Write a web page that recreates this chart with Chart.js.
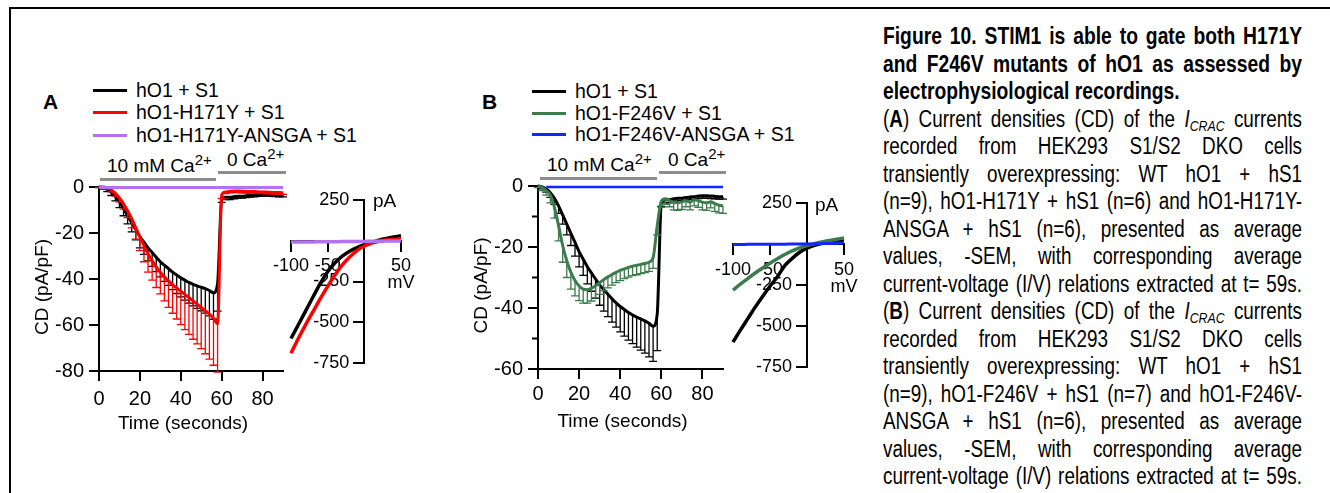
<!DOCTYPE html>
<html>
<head>
<meta charset="utf-8">
<script src="https://cdn.jsdelivr.net/npm/chart.js@4.4.0/dist/chart.umd.min.js"></script>
<style>
  html, body { margin: 0; padding: 0; background: #fff; }
  body { width: 1330px; height: 493px; position: relative; overflow: hidden; font-family: "Liberation Sans", Arial, sans-serif; color: #000; }
  .frame { position: absolute; left: 9px; top: 7px; width: 1400px; height: 600px; border-left: 2px solid #000; border-top: 2px solid #000; }
  canvas { position: absolute; }
  .leg-line { position: absolute; height: 3px; width: 34px; }
  .leg-text { position: absolute; font-size: 19.5px; line-height: 22px; white-space: nowrap; }
  .panel { position: absolute; font-size: 21px; font-weight: bold; line-height: 22px; }
  .ca-bar { position: absolute; height: 3px; background: #8c8c8c; }
  .ca-text { position: absolute; font-size: 19px; line-height: 20px; white-space: nowrap; }
  .ca-text sup { font-size: 15px; vertical-align: 7px; line-height: 0; }
  .unit { position: absolute; font-size: 19px; line-height: 20px; }
  .caption { position: absolute; left: 883px; top: 23px; width: 511px; transform: scaleX(0.82); transform-origin: 0 0; font-size: 23px; line-height: 27.5px; }
  .caption .ln { display: block; text-align: justify; text-align-last: justify; height: 27.5px; }
  .caption .ln.left { text-align: left; text-align-last: left; }
  .caption .t { font-weight: bold; font-size: 23.5px; }
  .caption sub { font-size: 15px; line-height: 0; vertical-align: -4px; font-style: italic; }
</style>
</head>
<body>
<div class="frame"></div>

<!-- Panel A legend -->
<div class="panel" style="left:43px; top:91px;">A</div>
<div class="leg-line" style="left:93px; top:89px; background:#000;"></div>
<div class="leg-text" style="left:136px; top:79px;">hO1 + S1</div>
<div class="leg-line" style="left:93px; top:111px; background:#ff0000;"></div>
<div class="leg-text" style="left:136px; top:101px;">hO1-H171Y + S1</div>
<div class="leg-line" style="left:93px; top:134px; background:#b472f2;"></div>
<div class="leg-text" style="left:136px; top:124px;">hO1-H171Y-ANSGA + S1</div>

<div class="ca-bar" style="left:100px; top:178px; width:116px;"></div>
<div class="ca-text" style="left:107px; top:156px;">10 mM Ca<sup>2+</sup></div>
<div class="ca-bar" style="left:218px; top:171px; width:68px;"></div>
<div class="ca-text" style="left:227px; top:150px;">0 Ca<sup>2+</sup></div>

<!-- Panel B legend -->
<div class="panel" style="left:482px; top:91px;">B</div>
<div class="leg-line" style="left:532px; top:90px; background:#000;"></div>
<div class="leg-text" style="left:575px; top:80px;">hO1 + S1</div>
<div class="leg-line" style="left:532px; top:112px; background:#3c7b4d;"></div>
<div class="leg-text" style="left:575px; top:102px;">hO1-F246V + S1</div>
<div class="leg-line" style="left:532px; top:133px; background:#1028ff;"></div>
<div class="leg-text" style="left:575px; top:123px;">hO1-F246V-ANSGA + S1</div>

<div class="ca-bar" style="left:540px; top:177px; width:117px;"></div>
<div class="ca-text" style="left:547px; top:155px;">10 mM Ca<sup>2+</sup></div>
<div class="ca-bar" style="left:659px; top:171px; width:67px;"></div>
<div class="ca-text" style="left:668px; top:150px;">0 Ca<sup>2+</sup></div>

<canvas id="timeA" width="310" height="310" style="left:0px; top:140px;"></canvas>
<canvas id="ivA" width="200" height="220" style="left:240px; top:170px;"></canvas>
<canvas id="timeB" width="310" height="310" style="left:440px; top:140px;"></canvas>
<canvas id="ivB" width="200" height="220" style="left:680px; top:170px;"></canvas>

<div class="unit" style="left:373px; top:191px;">pA</div>
<div class="unit" style="left:815px; top:195px;">pA</div>

<div class="caption">
  <span class="ln t">Figure 10. STIM1 is able to gate both H171Y</span>
  <span class="ln t">and F246V mutants of hO1 as assessed by</span>
  <span class="ln t left">electrophysiological recordings.</span>
  <span class="ln">(<b>A</b>) Current densities (CD) of the <i>I</i><sub>CRAC</sub> currents</span>
  <span class="ln">recorded from HEK293 S1/S2 DKO cells</span>
  <span class="ln">transiently overexpressing: WT hO1 + hS1</span>
  <span class="ln">(n=9), hO1-H171Y + hS1 (n=6) and hO1-H171Y-</span>
  <span class="ln">ANSGA + hS1 (n=6), presented as average</span>
  <span class="ln">values, -SEM, with corresponding average</span>
  <span class="ln">current-voltage (I/V) relations extracted at t= 59s.</span>
  <span class="ln">(<b>B</b>) Current densities (CD) of the <i>I</i><sub>CRAC</sub> currents</span>
  <span class="ln">recorded from HEK293 S1/S2 DKO cells</span>
  <span class="ln">transiently overexpressing: WT hO1 + hS1</span>
  <span class="ln">(n=9), hO1-F246V + hS1 (n=7) and hO1-F246V-</span>
  <span class="ln">ANSGA + hS1 (n=6), presented as average</span>
  <span class="ln">values, -SEM, with corresponding average</span>
  <span class="ln">current-voltage (I/V) relations extracted at t= 59s.</span>
</div>

<script>
// ---------------- DATA ----------------
const timeSec = [0,2,4,6,8,10,12,14,16,18,20,22,24,26,28,30,32,34,36,38,40,42,44,46,48,50,52,54,56,58,60,62,64,66,68,70,72,74,76,78,80,82,84,86,88,90];

const cdHO1 = [0,-0.3,-1,-2.2,-4,-6.5,-9.5,-12.5,-15.5,-18.5,-21.5,-24,-26.5,-28.5,-30.5,-32.5,-34,-35.5,-37,-38.3,-39.5,-40.5,-41.5,-42.3,-43,-43.6,-44.2,-45,-46,-42,-5.5,-4.5,-4.5,-4.2,-4,-4,-3.8,-3.6,-3.5,-3.3,-3.2,-3.2,-3.3,-3.4,-3.5,-3.5];
const semHO1 = [0.3,0.6,1,1.5,2,2.5,3,3.5,4,4.5,5,5.3,5.6,6,6.3,6.6,7,7.3,7.6,8,8.3,8.7,9,9.4,9.8,10.2,10.6,11,11.5,12,1.2,1,1,0.9,0.9,0.8,0.8,0.8,0.8,0.8,0.8,0.8,0.8,0.8,0.8,0.8];

const cdH171Y = [0,0,-0.4,-1.3,-2.8,-4.8,-7.3,-10.3,-13.8,-17.7,-21.7,-25.5,-29,-32,-34.7,-37,-39,-40.8,-42.4,-43.9,-45.3,-46.7,-48.1,-49.5,-50.9,-52.3,-53.8,-55.3,-57,-59.5,-3.5,-2.2,-1.8,-1.7,-1.7,-1.8,-1.9,-2,-2,-2.1,-2.2,-2.2,-2.3,-2.4,-2.4,-2.5];
const semH171Y = [0.2,0.3,0.5,0.8,1.2,1.7,2.3,3,4,5,6,7,8,8.5,9,9.5,10.5,11.5,12.5,13.5,14.5,15.3,16,16.7,17.3,18,18.7,19.5,20.5,21,1.5,0.7,0.7,0.7,0.7,0.7,0.7,0.7,0.7,0.7,0.7,0.7,0.7,0.7,0.7,0.7];

const cdH171YANSGA = [-0.2,-0.2,-0.2,-0.2,-0.2,-0.2,-0.2,-0.2,-0.2,-0.2,-0.2,-0.2,-0.2,-0.2,-0.2,-0.2,-0.2,-0.2,-0.2,-0.2,-0.2,-0.2,-0.2,-0.2,-0.2,-0.2,-0.2,-0.2,-0.2,-0.2,-0.2,-0.2,-0.2,-0.2,-0.2,-0.2,-0.2,-0.2,-0.2,-0.2,-0.2,-0.2,-0.2,-0.2,-0.2,-0.2];

const cdF246V = [0,-0.5,-1.5,-3,-7,-13,-19.5,-24.5,-28.3,-31,-32.8,-33.8,-34,-33.5,-32.7,-31.7,-30.7,-29.8,-29,-28.3,-27.7,-27.2,-26.7,-26.3,-26,-25.7,-25.4,-25,-23.5,-13,-5,-4.2,-4.8,-5.3,-5.5,-5.2,-4.8,-5.3,-4.5,-4.8,-5.3,-5.5,-5.2,-5.8,-6.3,-6.5];
const semF246V = [0.5,1,1.5,2.5,3.5,5,5.5,5.5,5.5,5,4.8,4.6,4.4,4.2,4,3.8,3.7,3.6,3.5,3.4,3.3,3.2,3.2,3.1,3.1,3,3,3,3.5,3,2,1.8,2,2.5,2.5,2.5,2,2.5,2,2.2,2.5,2.5,2,2.5,2.5,2.5];

const cdF246VANSGA = [null,null,-0.3,-0.3,-0.3,-0.3,-0.3,-0.3,-0.3,-0.3,-0.3,-0.3,-0.3,-0.3,-0.3,-0.3,-0.3,-0.3,-0.3,-0.3,-0.3,-0.3,-0.3,-0.3,-0.3,-0.3,-0.3,-0.3,-0.3,-0.3,-0.3,-0.3,-0.3,-0.3,-0.3,-0.3,-0.3,-0.3,-0.3,-0.3,-0.3,-0.3,-0.3,-0.3,-0.3,-0.3];

const timeTicks = [0,20,40,60,80];
const cdTicksA = [-80,-60,-40,-20,0];
const cdTicksB = [-60,-40,-20,0];
const cdMinorB = [-50,-30,-10];

const ivVolt = [-100,-90,-80,-70,-60,-50,-40,-30,-20,-10,0,10,20,30,40,50];
const ivA_HO1 = [-600,-515,-430,-345,-262,-190,-135,-95,-65,-42,-25,-10,4,14,23,31];
const ivA_H171Y = [-690,-600,-515,-435,-355,-280,-210,-148,-100,-60,-32,-14,-3,4,9,12];
const ivA_H171YANSGA = [-8,-8,-7,-7,-6,-6,-6,-5,-5,-4,-4,-3,-3,-2,-2,-1];
const ivB_HO1 = [-598,-525,-455,-385,-320,-258,-200,-132,-88,-50,-25,-8,5,14,20,25];
const ivB_F246V = [-281,-245,-211,-177,-146,-117,-90,-64,-42,-23,-9,2,12,21,29,37];
const ivB_F246VANSGA = [-3,-3,-2,-2,-2,-1,-1,-1,0,0,0,1,2,3,5,7];

const ivVoltTicks = [-100,-50,0,50];
const ivCurTicks = [-750,-500,-250,0,250];

// ---------------- STYLE ----------------
const C_BLACK = '#000000', C_RED = '#ff0000', C_PURPLE = '#b472f2', C_GREEN = '#3c7b4d', C_BLUE = '#1028ff';
const FONT = 'Liberation Sans, Arial, sans-serif';
Chart.defaults.font.family = FONT;
Chart.defaults.color = '#000';

const errorBars = {
  id: 'errorBars',
  afterDatasetDraw(chart, args) {
    const ds = chart.data.datasets[args.index];
    if (!ds.sem) return;
    const xs = chart.scales.x, ys = chart.scales.y, ctx = chart.ctx;
    ctx.save();
    ctx.strokeStyle = ds.borderColor;
    ctx.lineWidth = 1.3;
    ds.data.forEach((p, i) => {
      const e = ds.sem[i];
      if (p.y === null || !e) return;
      const x = xs.getPixelForValue(p.x);
      const y0 = ys.getPixelForValue(p.y);
      const y1 = ys.getPixelForValue(p.y - e);
      ctx.beginPath();
      ctx.moveTo(x, y0); ctx.lineTo(x, y1);
      ctx.moveTo(x - 4, y1); ctx.lineTo(x + 4, y1);
      ctx.stroke();
    });
    ctx.restore();
  }
};

const minorTicks = {
  id: 'minorTicks',
  afterDraw(chart, args, opts) {
    if (!opts || !opts.values) return;
    const ys = chart.scales.y, ctx = chart.ctx, x0 = chart.chartArea.left;
    ctx.save();
    ctx.strokeStyle = '#000'; ctx.lineWidth = 2;
    opts.values.forEach(v => {
      const y = ys.getPixelForValue(v);
      ctx.beginPath(); ctx.moveTo(x0, y); ctx.lineTo(x0 - opts.length, y); ctx.stroke();
    });
    ctx.restore();
  }
};

function series(xs, ys) { return xs.map((x, i) => ({x: x, y: ys[i]})); }

function lineDs(label, xs, ys, color, width, sem) {
  const d = {
    label: label, data: series(xs, ys), borderColor: color, backgroundColor: color,
    borderWidth: width, pointRadius: 0, fill: false, clip: false,
    cubicInterpolationMode: 'monotone', spanGaps: false
  };
  if (sem) d.sem = sem;
  return d;
}

const axisGrid = { display: true, drawOnChartArea: false, drawTicks: true, tickLength: 10, lineWidth: 2, color: '#000' };
const axisBorder = { display: true, width: 2, color: '#000' };

// trailing spaces nudge the centred axis titles off-centre, as in the original figure
const X_TITLE = 'Time (seconds)\u00a0\u00a0\u00a0';
const Y_TITLE = 'CD (pA/pF)\u00a0\u00a0\u00a0';

function timeChart(id, datasets, yMin, yTicks, pad, xLabelPad, minor) {
  return new Chart(document.getElementById(id), {
    type: 'line',
    data: { datasets: datasets },
    options: {
      responsive: false, animation: false, devicePixelRatio: 1,
      layout: { padding: pad },
      plugins: { legend: { display: false }, tooltip: { enabled: false },
                 minorTicks: minor ? { values: minor, length: 6 } : {} },
      scales: {
        x: {
          type: 'linear', position: 'bottom', min: 0, max: 90,
          afterBuildTicks: s => { s.ticks = timeTicks.map(v => ({value: v})); },
          afterFit: s => { s.height = 65; },
          grid: axisGrid, border: axisBorder,
          ticks: { font: { size: 20 }, padding: xLabelPad, maxRotation: 0, autoSkip: false },
          title: { display: true, text: X_TITLE, font: { size: 19 }, padding: { top: 0, bottom: 1 } }
        },
        y: {
          type: 'linear', position: 'left', min: yMin, max: 0,
          afterBuildTicks: s => { s.ticks = yTicks.map(v => ({value: v})); },
          afterFit: s => { s.width = 70; },
          grid: axisGrid, border: axisBorder,
          ticks: { font: { size: 20 }, padding: 5, autoSkip: false },
          title: { display: true, text: Y_TITLE, font: { size: 19 }, padding: { top: 2, bottom: 0 } }
        }
      }
    },
    plugins: [errorBars, minorTicks]
  });
}

function ivChart(id, datasets, pad) {
  return new Chart(document.getElementById(id), {
    type: 'line',
    data: { datasets: datasets },
    options: {
      responsive: false, animation: false, devicePixelRatio: 1,
      layout: { padding: pad },
      plugins: { legend: { display: false }, tooltip: { enabled: false } },
      scales: {
        x: {
          type: 'linear', position: { y: 0 }, min: -100, max: 50,
          afterBuildTicks: s => { s.ticks = ivVoltTicks.map(v => ({value: v})); },
          grid: axisGrid, border: axisBorder,
          ticks: { font: { size: 18, lineHeight: 0.95 }, padding: 7, maxRotation: 0, autoSkip: false,
                   callback: v => v === 0 ? '' : (v === 50 ? ['50', 'mV'] : String(v)) }
        },
        y: {
          type: 'linear', position: { x: 0 }, min: -750, max: 250,
          afterBuildTicks: s => { s.ticks = ivCurTicks.map(v => ({value: v})); },
          grid: axisGrid, border: axisBorder,
          // label sits left of the axis line: keep a gap of about three spaces
          ticks: { font: { size: 18 }, padding: 4, autoSkip: false,
                   callback: v => v === 0 ? '' : String(v) + '   ' }
        }
      }
    }
  });
}

// Panel A time course (index 0 drawn on top)
timeChart('timeA', [
  lineDs('hO1-H171Y-ANSGA + S1', timeSec, cdH171YANSGA, C_PURPLE, 3),
  lineDs('hO1-H171Y + S1', timeSec, cdH171Y, C_RED, 3, semH171Y),
  lineDs('hO1 + S1', timeSec, cdHO1, C_BLACK, 3, semHO1)
], -80, cdTicksA, { left: 29, right: 27, top: 47, bottom: 14 }, 6, null);

ivChart('ivA', [
  lineDs('hO1-H171Y-ANSGA + S1', ivVolt, ivA_H171YANSGA, C_PURPLE, 3.5),
  lineDs('hO1-H171Y + S1', ivVolt, ivA_H171Y, C_RED, 3.5),
  lineDs('hO1 + S1', ivVolt, ivA_HO1, C_BLACK, 3.5)
], { left: 51, right: 39, top: 30, bottom: 27 });

// Panel B
timeChart('timeB', [
  lineDs('hO1-F246V-ANSGA + S1', timeSec, cdF246VANSGA, C_BLUE, 2.5),
  lineDs('hO1-F246V + S1', timeSec, cdF246V, C_GREEN, 3, semF246V),
  lineDs('hO1 + S1', timeSec, cdHO1, C_BLACK, 3, semHO1)
], -60, cdTicksB, { left: 28, right: 27, top: 46, bottom: 16 }, 3, cdMinorB);

ivChart('ivB', [
  lineDs('hO1-F246V-ANSGA + S1', ivVolt, ivB_F246VANSGA, C_BLUE, 3),
  lineDs('hO1-F246V + S1', ivVolt, ivB_F246V, C_GREEN, 3.5),
  lineDs('hO1 + S1', ivVolt, ivB_HO1, C_BLACK, 3.5)
], { left: 53, right: 36, top: 33, bottom: 23 });
</script>
</body>
</html>
